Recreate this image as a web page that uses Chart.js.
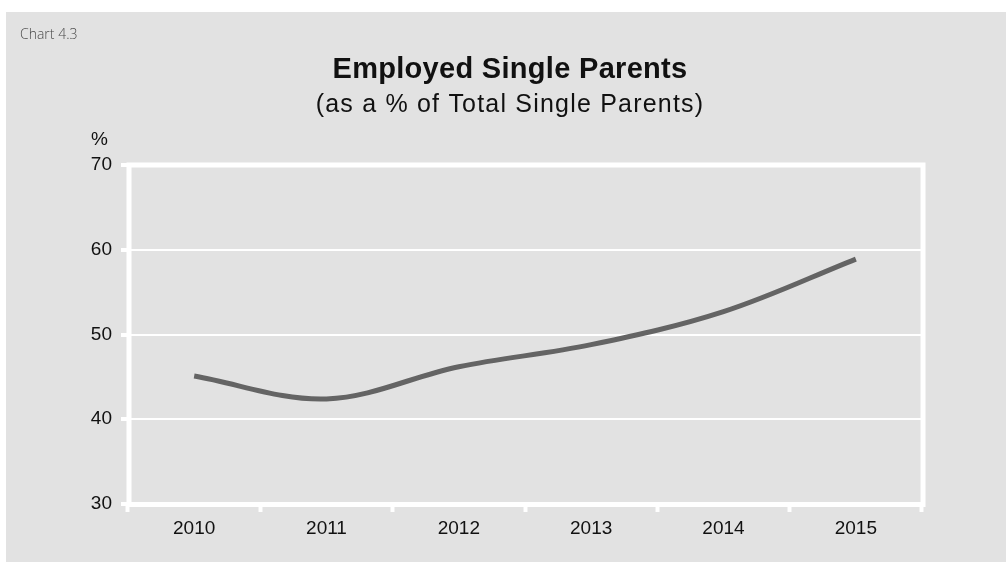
<!DOCTYPE html>
<html>
<head>
<meta charset="utf-8">
<script src="https://cdn.jsdelivr.net/npm/chart.js@4/dist/chart.umd.min.js"></script>
<style>
  html, body { margin: 0; padding: 0; background: #ffffff; }
  #wrap { width: 1006px; height: 562px; position: relative; }
</style>
</head>
<body>
<div id="wrap"><canvas id="c" width="1006" height="562"></canvas></div>
<script>
// Employed single parents, share of all single parents (%)
const years = ['2010', '2011', '2012', '2013', '2014', '2015'];
const employedShare = [45.1, 42.4, 46.2, 48.8, 52.7, 58.9];
const yTicks = [30, 40, 50, 60, 70];

const chartLabel = 'Chart 4.3';
const titleText = 'Employed Single Parents';
const subtitleText = '(as a % of Total Single Parents)';
const unitText = '%';

const FONT = '"Liberation Sans", Arial, sans-serif';

// Panel background, headings and the white frame round the plot
const decor = {
  id: 'decor',
  beforeDraw(chart) {
    const ctx = chart.ctx;
    ctx.save();
    ctx.fillStyle = '#ffffff';
    ctx.fillRect(0, 0, chart.width, chart.height);
    ctx.fillStyle = '#e2e2e2';
    ctx.fillRect(6, 12, chart.width - 6, chart.height - 12);

    ctx.fillStyle = '#4a4a4a';
    ctx.font = '300 14px "Open Sans", sans-serif';
    ctx.textAlign = 'left';
    ctx.textBaseline = 'alphabetic';
    ctx.fillText(chartLabel, 20, 39);

    ctx.fillStyle = '#111111';
    ctx.textAlign = 'center';
    ctx.letterSpacing = '0.3px';
    ctx.font = 'bold 29px ' + FONT;
    ctx.fillText(titleText, 510, 78);
    ctx.letterSpacing = '1.2px';
    ctx.font = '25px ' + FONT;
    ctx.fillText(subtitleText, 510, 112);
    ctx.letterSpacing = '0px';

    ctx.textAlign = 'left';
    ctx.font = '19px ' + FONT;
    ctx.fillText(unitText, 91, 145);
    ctx.restore();
  },
  beforeDatasetsDraw(chart) {
    const a = chart.chartArea;
    const ctx = chart.ctx;
    ctx.save();
    ctx.strokeStyle = '#ffffff';
    ctx.lineWidth = 5;
    ctx.strokeRect(a.left + 1, a.top, a.right - a.left, a.bottom - a.top + 0.5);
    ctx.restore();
  }
};

new Chart(document.getElementById('c'), {
  type: 'line',
  data: {
    labels: years,
    datasets: [{
      data: employedShare,
      borderColor: '#646464',
      borderWidth: 5,
      tension: 0.35,
      pointRadius: 0,
      pointHoverRadius: 0,
      fill: false
    }]
  },
  options: {
    responsive: false,
    animation: false,
    events: [],
    layout: { padding: { left: 68, right: 84, top: 165, bottom: 0 } },
    plugins: {
      legend: { display: false },
      title: { display: false },
      tooltip: { enabled: false }
    },
    scales: {
      x: {
        offset: true,
        border: { display: false },
        grid: {
          offset: true,
          drawOnChartArea: false,
          drawTicks: true,
          tickLength: 8,
          tickWidth: 4,
          tickColor: '#ffffff',
          color: '#ffffff'
        },
        ticks: {
          color: '#111111',
          font: { family: FONT, size: 19 },
          padding: 5,
          maxRotation: 0
        },
        afterFit(scale) { scale.height = 58; }
      },
      y: {
        min: 30,
        max: 70,
        border: { display: false },
        afterBuildTicks(scale) { scale.ticks = yTicks.map(v => ({ value: v })); },
        grid: {
          color: '#ffffff',
          lineWidth: 2,
          drawTicks: true,
          tickLength: 7,
          tickWidth: 4,
          tickColor: '#ffffff'
        },
        ticks: {
          color: '#111111',
          font: { family: FONT, size: 19 },
          padding: 9
        },
        afterFit(scale) { scale.width = 60; }
      }
    }
  },
  plugins: [decor]
});
</script>
</body>
</html>
